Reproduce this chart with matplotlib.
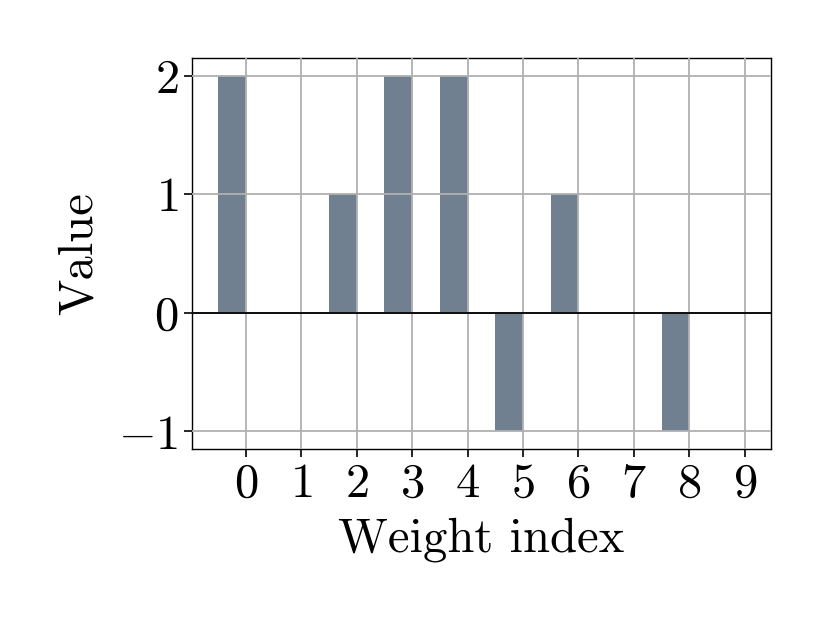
import matplotlib
matplotlib.use("Agg")
import matplotlib.pyplot as plt
import numpy as np

plt.rcParams['font.family'] = 'serif'
plt.rcParams['font.serif'] = ['cmr10']
plt.rcParams['mathtext.fontset'] = 'cm'
plt.rcParams['axes.formatter.use_mathtext'] = True

indices = list(range(10))
values = [2, 0, 1, 2, 2, -1, 1, 0, -1, 0]

fig = plt.figure(figsize=(8.3, 6.23), dpi=100)
ax = fig.add_axes([0.231, 0.279, 0.698, 0.628])
ax.bar(indices, values, width=-0.5, align='edge', color='#708090', zorder=1)
ax.set_axisbelow(False)
ax.grid(True, color='#b0b0b0', linewidth=1.3, zorder=2)
ax.axhline(0, color='black', linewidth=1.3, zorder=3)
ax.set_xticks(indices)
ax.set_xticklabels([f'${i}$' for i in indices])
ax.set_yticks([-1, 0, 1, 2])
ax.set_yticklabels(['$-1$', '$0$', '$1$', '$2$'])
ax.tick_params(labelsize=35, length=6, width=1.2)
ax.set_xlabel('Weight index', fontsize=35, labelpad=8)
ax.set_ylabel('Value', fontsize=35, labelpad=12)
for s in ax.spines.values():
    s.set_linewidth(1.0)
fig.savefig('out.png', dpi=100)
